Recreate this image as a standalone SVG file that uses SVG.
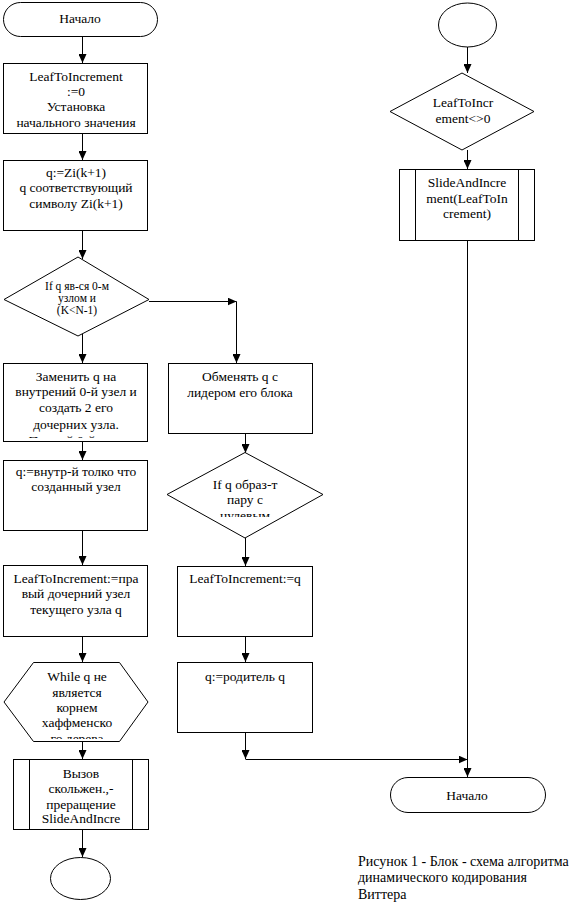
<svg xmlns="http://www.w3.org/2000/svg" width="575" height="911" viewBox="0 0 575 911">
<style>
.s{fill:#fff;stroke:#000;stroke-width:1}
.t{font-family:"Liberation Serif","Times New Roman",serif;font-size:13.5px;fill:#000;text-anchor:middle}
.d{font-size:11.5px}
.c{fill:none;stroke:#000;stroke-width:1}
.l{font-family:"Liberation Serif","Times New Roman",serif;font-size:14px;fill:#000}
</style>
<defs>
<marker id="a" markerUnits="userSpaceOnUse" markerWidth="9" markerHeight="8" refX="9" refY="4" orient="auto" viewBox="0 0 9 8">
<path d="M0,0 L9,4 L0,8 Z" fill="#000"/>
</marker>
<clipPath id="k1"><polygon points="78,257 149,299 78,336 4,299"/></clipPath>
<clipPath id="k2"><rect x="4" y="363" width="144" height="75"/></clipPath>
<clipPath id="k3b"><rect x="160" y="440" width="180" height="77"/></clipPath>
<clipPath id="k4"><rect x="0" y="660" width="160" height="79"/></clipPath>
</defs>
<g id="connectors">
<line class="c" x1="82.5" y1="37" x2="82.5" y2="63" marker-end="url(#a)"/>
<line class="c" x1="82.5" y1="134" x2="82.5" y2="160" marker-end="url(#a)"/>
<line class="c" x1="82.5" y1="231" x2="82.5" y2="259" marker-end="url(#a)"/>
<line class="c" x1="82.5" y1="334" x2="82.5" y2="363" marker-end="url(#a)"/>
<line class="c" x1="149" y1="301.5" x2="236.5" y2="301.5" marker-end="url(#a)"/>
<line class="c" x1="236.5" y1="301.5" x2="236.5" y2="363" marker-end="url(#a)"/>
<line class="c" x1="82.5" y1="441" x2="82.5" y2="460" marker-end="url(#a)"/>
<line class="c" x1="82.5" y1="530" x2="82.5" y2="565" marker-end="url(#a)"/>
<line class="c" x1="82.5" y1="636" x2="82.5" y2="662" marker-end="url(#a)"/>
<line class="c" x1="82.5" y1="741" x2="82.5" y2="759" marker-end="url(#a)"/>
<line class="c" x1="82.5" y1="829" x2="82.5" y2="857" marker-end="url(#a)"/>
<line class="c" x1="245.5" y1="433" x2="245.5" y2="453" marker-end="url(#a)"/>
<line class="c" x1="245.5" y1="538" x2="245.5" y2="566" marker-end="url(#a)"/>
<line class="c" x1="245.5" y1="636" x2="245.5" y2="662" marker-end="url(#a)"/>
<line class="c" x1="245.5" y1="732" x2="245.5" y2="759" marker-end="url(#a)"/>
<line class="c" x1="245.5" y1="759.5" x2="467.5" y2="759.5" marker-end="url(#a)"/>
<line class="c" x1="467.5" y1="47" x2="467.5" y2="73" marker-end="url(#a)"/>
<line class="c" x1="467.5" y1="150" x2="467.5" y2="169" marker-end="url(#a)"/>
<line class="c" x1="467.5" y1="240" x2="467.5" y2="777" marker-end="url(#a)"/>
</g>
<g id="start">
<rect class="s" x="3.5" y="2.5" width="154" height="34" rx="17"/>
<text class="t" x="80" y="23">Начало</text>
</g>
<g id="init">
<rect class="s" x="3.5" y="63.5" width="144" height="70"/>
<text class="t" x="76" y="81">LeafToIncrement</text>
<text class="t" x="76" y="96">:=0</text>
<text class="t" x="76" y="111">Установка</text>
<text class="t" x="76" y="127">начального значения</text>
</g>
<g id="setq">
<rect class="s" x="3.5" y="160.5" width="144" height="70"/>
<text class="t" x="76" y="177">q:=Zi(k+1)</text>
<text class="t" x="76" y="192">q соответствующий</text>
<text class="t" x="76" y="208">символу Zi(k+1)</text>
</g>
<g id="cond1">
<polygon class="s" points="78,257 149,299.5 78,336 4,299.5"/>
<g clip-path="url(#k1)">
<text class="t d" x="77" y="290">If q яв-ся 0-м</text>
<text class="t d" x="77" y="302">узлом и</text>
<text class="t d" x="77" y="314">(K&lt;N-1)</text>
</g>
</g>
<g id="replace">
<rect class="s" x="3.5" y="363.5" width="144" height="78"/>
<g clip-path="url(#k2)">
<text class="t" x="76" y="381">Заменить q на</text>
<text class="t" x="76" y="396">внутрений 0-й узел и</text>
<text class="t" x="76" y="412">создать 2 его</text>
<text class="t" x="76" y="429">дочерних узла.</text>
<text class="t" x="76" y="445">Первый 0-й узел</text>
</g>
</g>
<g id="swap">
<rect class="s" x="168.5" y="363.5" width="144" height="70"/>
<text class="t" x="240" y="381">Обменять q с</text>
<text class="t" x="240" y="397">лидером его блока</text>
</g>
<g id="cond2">
<polygon class="s" points="245,452.5 323,494.5 245,538 167,494.5"/>
<g clip-path="url(#k3b)">
<text class="t" x="245" y="489">If q образ-т</text>
<text class="t" x="245" y="504">пару с</text>
<text class="t" x="245" y="520">нулевым</text>
</g>
</g>
<g id="leafq">
<rect class="s" x="177.5" y="566.5" width="135" height="70"/>
<text class="t" x="245" y="583">LeafToIncrement:=q</text>
</g>
<g id="parent">
<rect class="s" x="177.5" y="662.5" width="135" height="70"/>
<text class="t" x="245" y="681">q:=родитель  q</text>
</g>
<g id="inner">
<rect class="s" x="3.5" y="460.5" width="144" height="70"/>
<text class="t" x="76" y="476">q:=внутр-й толко что</text>
<text class="t" x="76" y="491">созданный узел</text>
</g>
<g id="leafright">
<rect class="s" x="3.5" y="565.5" width="144" height="71"/>
<text class="t" x="76" y="583">LeafToIncrement:=пра</text>
<text class="t" x="76" y="598">вый дочерний узел</text>
<text class="t" x="76" y="614">текущего  узла q</text>
</g>
<g id="loop">
<polygon class="s" points="4,702 33.5,662.5 119.5,662.5 148,702 119.5,741.5 33.5,741.5"/>
<g clip-path="url(#k4)">
<text class="t" x="77" y="681">While q не</text>
<text class="t" x="77" y="697">является</text>
<text class="t" x="77" y="712">корнем</text>
<text class="t" x="77" y="727">хаффменско</text>
<text class="t" x="77" y="743">го дерева</text>
</g>
</g>
<g id="call">
<rect class="s" x="13.5" y="759.5" width="135" height="70"/>
<line class="c" x1="29.5" y1="759.5" x2="29.5" y2="829.5"/>
<line class="c" x1="132.5" y1="759.5" x2="132.5" y2="829.5"/>
<text class="t" x="81" y="778">Вызов</text>
<text class="t" x="81" y="793">скольжен.,-</text>
<text class="t" x="81" y="809">преращение</text>
<text class="t" x="81" y="823">SlideAndIncre</text>
</g>
<g id="endleft">
<ellipse class="s" cx="80.5" cy="878.5" rx="30" ry="21"/>
</g>
<g id="startright">
<ellipse class="s" cx="467.5" cy="25" rx="29" ry="22"/>
</g>
<g id="cond3">
<polygon class="s" points="462,73 534,111.5 462,150 390,111.5"/>
<text class="t" x="463" y="107">LeafToIncr</text>
<text class="t" x="463" y="123">ement&lt;&gt;0</text>
</g>
<g id="slide">
<rect class="s" x="399.5" y="169.5" width="135" height="71"/>
<line class="c" x1="415.5" y1="169.5" x2="415.5" y2="240.5"/>
<line class="c" x1="518.5" y1="169.5" x2="518.5" y2="240.5"/>
<text class="t" x="467" y="187">SlideAndIncre</text>
<text class="t" x="467" y="203">ment(LeafToIn</text>
<text class="t" x="467" y="218">crement)</text>
</g>
<g id="end">
<rect class="s" x="390.5" y="777.5" width="155" height="35" rx="17.5"/>
<text class="t" x="467" y="800">Начало</text>
</g>
<g id="caption">
<text class="l" x="358" y="866">Рисунок 1 - Блок - схема алгоритма</text>
<text class="l" x="358" y="882">динамического кодирования</text>
<text class="l" x="358" y="899">Виттера</text>
</g>
</svg>
